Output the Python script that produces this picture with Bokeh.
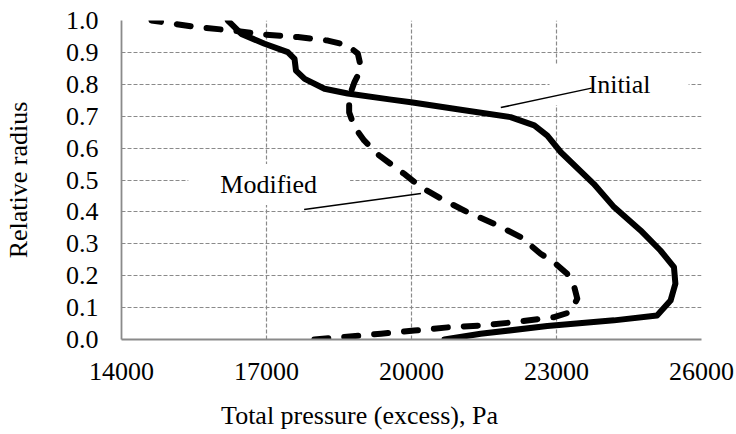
from bokeh.embed import file_html
from bokeh.models import FixedTicker, Label, NumeralTickFormatter, Range1d
from bokeh.plotting import figure
from bokeh.resources import INLINE

# Radial distribution of total pressure (excess) for the two designs
initial_pressure = [20680, 21430, 22810, 24190, 25080, 25360, 25460, 25430, 25150,
                    24740, 24190, 23770, 23090, 22810, 22540, 22050, 21020, 19990,
                    19580, 18680, 18200, 17790, 17610, 17580, 17440, 16960, 16480, 16200]
initial_radius = [0.0, 0.018, 0.042, 0.060, 0.075, 0.122, 0.175, 0.227, 0.279,
                  0.342, 0.415, 0.488, 0.587, 0.639, 0.671, 0.697, 0.720, 0.744,
                  0.752, 0.771, 0.786, 0.817, 0.843, 0.880, 0.901, 0.927, 0.958, 1.0]

modified_pressure = [17990, 19370, 20060, 20750, 21430, 22120, 22950, 23290, 23430,
                     23360, 23220, 22950, 22670, 22260, 21710, 21160, 20680, 20200,
                     19850, 19330, 19020, 18820, 18710, 18710, 18820, 18960, 18890,
                     18680, 18270, 17650, 16960, 16270, 15580, 14620]
modified_radius = [0.0, 0.018, 0.028, 0.038, 0.044, 0.054, 0.070, 0.086, 0.128,
                   0.169, 0.206, 0.242, 0.269, 0.321, 0.363, 0.399, 0.436, 0.477,
                   0.519, 0.577, 0.624, 0.666, 0.712, 0.760, 0.807, 0.849, 0.896,
                   0.922, 0.937, 0.948, 0.956, 0.969, 0.979, 1.0]

x_ticks = [14000, 17000, 20000, 23000, 26000]
y_ticks = [0.0, 0.1, 0.2, 0.3, 0.4, 0.5, 0.6, 0.7, 0.8, 0.9, 1.0]

x_title = "Total pressure (excess), Pa"
y_title = "Relative radius"

FONT = "Liberation Serif"
GRID = "#8a8a8a"

p = figure(width=736, height=434,
           x_range=Range1d(14000, 26000), y_range=Range1d(0, 1),
           output_backend="svg", toolbar_location=None,
           min_border_left=120, min_border_right=35,
           min_border_top=20, min_border_bottom=95)
p.outline_line_color = None
p.background_fill_color = "white"
p.border_fill_color = "white"

# axes
for ax in (p.xaxis[0], p.yaxis[0]):
    ax.axis_line_color = GRID
    ax.axis_line_width = 1.8
    ax.major_tick_line_color = None
    ax.minor_tick_line_color = None
    ax.major_tick_out = 0
    ax.major_tick_in = 0
    ax.major_label_text_font = FONT
    ax.major_label_text_font_size = "26px"
    ax.major_label_text_color = "black"
    ax.axis_label_text_font = FONT
    ax.axis_label_text_font_size = "26px"
    ax.axis_label_text_font_style = "normal"
    ax.axis_label_text_color = "black"

p.xaxis.ticker = FixedTicker(ticks=x_ticks)
p.yaxis.ticker = FixedTicker(ticks=y_ticks)
p.xaxis.formatter = NumeralTickFormatter(format="0")
p.yaxis.formatter = NumeralTickFormatter(format="0.0")
p.xaxis.major_label_standoff = 23
p.yaxis.major_label_standoff = 23

# the x title is centred on the whole chart: trailing no-break spaces
# pull its centre left of the frame centre
p.xaxis.axis_label = x_title + "\u00a0" * 16
p.xaxis.axis_label_standoff = 18
p.yaxis.axis_label = y_title
p.yaxis.axis_label_standoff = 30

# dashed grid
p.xgrid.ticker = FixedTicker(ticks=x_ticks)
p.ygrid.ticker = FixedTicker(ticks=y_ticks)
for g in (p.xgrid[0], p.ygrid[0]):
    g.grid_line_color = GRID
    g.grid_line_width = 1.2
    g.grid_line_dash = "4 2"

# curves
p.line(initial_pressure, initial_radius, line_color="black", line_width=6,
       line_cap="round", line_join="round")
p.line(modified_pressure, modified_radius, line_color="black", line_width=6,
       line_dash="14 16", line_cap="round", line_join="round")

# series labels with white boxes (padding: left, right, top, bottom)
p.add_layout(Label(x=17056, y=0.486, text="Modified", text_font=FONT,
                   text_font_size="26px", text_color="black",
                   text_align="center", text_baseline="middle",
                   background_fill_color="white", padding=(32, 33, 6, 6)))
p.add_layout(Label(x=24294, y=0.799, text="Initial", text_font=FONT,
                   text_font_size="26px", text_color="black",
                   text_align="center", text_baseline="middle",
                   background_fill_color="white", padding=(39, 38, 6, 6)))

# leader lines
p.segment(x0=[17779, 21847], y0=[0.4075, 0.727],
          x1=[20195, 23726], y1=[0.458, 0.788],
          line_color="black", line_width=1.5, level="overlay")

open("out.html", "w").write(file_html(p, INLINE))
